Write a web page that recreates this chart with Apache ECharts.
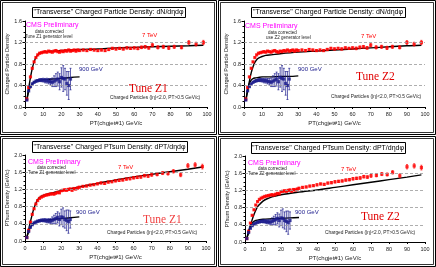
<!DOCTYPE html>
<html><head><meta charset="utf-8">
<script src="https://cdn.jsdelivr.net/npm/echarts@6/dist/echarts.min.js"></script>
<style>html,body{margin:0;padding:0;background:#fff;}#c{width:436px;height:267px;}</style>
</head><body><div id="c"></div>
<script>
// ---------- data ----------
const x7 = [1,2,3,4,5,6,7,8,9,10,11,12,13,14,15,16,17,18,19,20,21,22,23,24,25,26,27,28,29,30,32,34,36,38,40,42,44,46,48,50,52,54,56,58,60,62,64,66,68,70,73,76,79,82,86,90,94,98];
const dN7 = [0.15,0.36,0.56,0.72,0.84,0.92,0.97,1.00,1.01,1.02,1.03,1.02,1.04,1.03,1.02,1.04,1.05,1.03,1.02,1.04,1.03,1.05,1.04,1.06,1.04,1.05,1.06,1.04,1.06,1.05,1.06,1.05,1.07,1.06,1.05,1.06,1.05,1.07,1.09,1.08,1.09,1.08,1.10,1.09,1.10,1.09,1.11,1.12,1.10,1.15,1.11,1.12,1.10,1.12,1.11,1.20,1.17,1.20];
const dN7err = [0.01,0.01,0.01,0.01,0.01,0.01,0.01,0.01,0.01,0.01,0.012,0.012,0.012,0.012,0.012,0.012,0.012,0.012,0.012,0.012,0.015,0.015,0.015,0.015,0.015,0.015,0.015,0.015,0.015,0.015,0.018,0.018,0.018,0.018,0.018,0.018,0.018,0.02,0.02,0.02,0.02,0.02,0.02,0.02,0.02,0.025,0.025,0.025,0.025,0.03,0.03,0.03,0.03,0.03,0.03,0.035,0.035,0.04];
const x9 = [1,2,3,4,5,6,7,8,9,10,11,12,13,14,15,16,17,18,19,20,21,22,23,24,25];
const dN9 = [0.13,0.30,0.38,0.43,0.46,0.48,0.49,0.50,0.50,0.50,0.49,0.49,0.48,0.47,0.46,0.48,0.50,0.52,0.47,0.55,0.53,0.52,0.44,0.40,0.52];
const dN9err = [0.01,0.01,0.01,0.015,0.015,0.02,0.02,0.025,0.03,0.035,0.04,0.045,0.05,0.06,0.08,0.1,0.12,0.13,0.15,0.18,0.24,0.2,0.22,0.26,0.2];
const pt7 = [0.08,0.25,0.44,0.62,0.75,0.86,0.94,0.99,1.02,1.04,1.06,1.07,1.08,1.09,1.10,1.09,1.11,1.13,1.12,1.17,1.18,1.19,1.18,1.20,1.21,1.18,1.22,1.21,1.23,1.25,1.27,1.28,1.30,1.31,1.33,1.35,1.34,1.37,1.38,1.40,1.41,1.42,1.44,1.45,1.47,1.48,1.49,1.52,1.51,1.54,1.55,1.58,1.57,1.62,1.54,1.75,1.77,1.73];
const pt7err = [0.01,0.01,0.01,0.01,0.01,0.01,0.01,0.01,0.01,0.012,0.012,0.012,0.012,0.012,0.015,0.015,0.015,0.015,0.015,0.015,0.015,0.018,0.018,0.018,0.018,0.018,0.018,0.02,0.02,0.02,0.02,0.02,0.02,0.02,0.022,0.022,0.022,0.022,0.025,0.025,0.025,0.025,0.025,0.028,0.028,0.028,0.03,0.03,0.03,0.035,0.035,0.035,0.035,0.04,0.045,0.05,0.05,0.055];
const pt9 = [0.08,0.22,0.32,0.38,0.42,0.44,0.46,0.47,0.48,0.48,0.48,0.47,0.47,0.46,0.48,0.50,0.52,0.55,0.50,0.56,0.55,0.50,0.48,0.45,0.50];
const pt9err = [0.01,0.01,0.01,0.015,0.015,0.02,0.02,0.025,0.03,0.035,0.04,0.045,0.05,0.06,0.08,0.1,0.12,0.13,0.15,0.18,0.22,0.2,0.24,0.27,0.2];
// tune curves
const xTune7 = [1,2,3,4,5,6,7,8,10,12,15,20,30,40,50,60,70,80,90,98];
const dN7Z1 = [0.13,0.34,0.55,0.72,0.84,0.92,0.97,1.00,1.02,1.03,1.04,1.05,1.07,1.08,1.10,1.11,1.12,1.13,1.14,1.15];
const dN7Z2 = [0.12,0.30,0.48,0.64,0.75,0.83,0.88,0.91,0.94,0.96,0.97,0.99,1.02,1.04,1.06,1.08,1.10,1.12,1.14,1.15];
const pt7Z1 = [0.08,0.26,0.45,0.62,0.77,0.88,0.96,1.01,1.06,1.09,1.12,1.17,1.26,1.34,1.42,1.49,1.55,1.61,1.67,1.72];
const pt7Z2 = [0.08,0.22,0.38,0.52,0.64,0.74,0.82,0.87,0.95,1.00,1.05,1.10,1.16,1.21,1.27,1.33,1.39,1.45,1.51,1.56];
const xTune9 = [1,2,3,4,5,6,8,10,15,20,25,30];
const dN9Z1 = [0.12,0.29,0.38,0.43,0.46,0.48,0.50,0.51,0.52,0.53,0.55,0.56];
const dN9Z2 = [0.12,0.32,0.44,0.50,0.53,0.54,0.55,0.56,0.56,0.57,0.57,0.58];
const pt9Z1 = [0.08,0.22,0.32,0.38,0.42,0.44,0.47,0.48,0.50,0.52,0.54,0.56];
const pt9Z2 = [0.08,0.25,0.37,0.44,0.48,0.50,0.52,0.53,0.54,0.55,0.56,0.57];
const xTicks = [0,10,20,30,40,50,60,70,80,90,100];
const yTicksDN = [0.0,0.4,0.8,1.2,1.6];
const yTicksPT = [0.0,0.4,0.8,1.2,1.6,2.0];

// ---------- layout ----------
const RED = '#ff0000', BLUE = '#1a1a8c', FONT = 'Liberation Sans, Arial, sans-serif';
const panels = [
  {ox:0, oy:0, w:216, h:134, grid:{left:25, top:21, width:182, height:86}, yt:yTicksDN,
   title:'"Transverse" Charged Particle Density: dN/d\u03b7d\u03c6', yname:'Charged Particle Density',
   r:dN7, re:dN7err, b:dN9, be:dN9err, l7:dN7Z1, l9:dN9Z1, tune:'Tune Z1', gen:'Tune Z1 generator level', tc:'#e00000',
   tb:[32,7,153,10], cms:[26,25], dc:[35,32], gl:[25,37], t7:[142,35], t9:[79,69], tn:[129,89], cp:[110,98]},
  {ox:218, oy:0, w:217, h:134, grid:{left:244, top:21, width:181, height:86}, yt:yTicksDN,
   title:'"Transverse" Charged Particle Density: dN/d\u03b7d\u03c6', yname:'Charged Particle Density',
   r:dN7, re:dN7err, b:dN9, be:dN9err, l7:dN7Z2, l9:dN9Z2, tune:'Tune Z2', gen:'use Z2 generator level', tc:'#e00000',
   tb:[33,7,154,10], cms:[27,26], dc:[50,33], gl:[48,38], t7:[143,36], t9:[80,69], tn:[138,77], cp:[113,97]},
  {ox:0, oy:136, w:216, h:130, grid:{left:25, top:155, width:181, height:86}, yt:yTicksPT,
   title:'"Transverse" Charged PTsum Density: dPT/d\u03b7d\u03c6', yname:'PTsum Density (GeV/c)',
   r:pt7, re:pt7err, b:pt9, be:pt9err, l7:pt7Z1, l9:pt9Z1, tune:'Tune Z1', gen:'Tune Z1 generator level', tc:'#f04040',
   tb:[32,5,155,11], cms:[28,26], dc:[37,32], gl:[28,37], t7:[118,31], t9:[76,76], tn:[143,84], cp:[107,97]},
  {ox:218, oy:136, w:217, h:130, grid:{left:245, top:156, width:180, height:86}, yt:yTicksPT,
   title:'"Transverse" Charged PTsum Density: dPT/d\u03b7d\u03c6', yname:'PTsum Density (GeV/c)',
   r:pt7, re:pt7err, b:pt9, be:pt9err, l7:pt7Z2, l9:pt9Z2, tune:'Tune Z2', gen:'Tune Z2 generator level', tc:'#e00000',
   tb:[33,6,154,11], cms:[30,27], dc:[40,33], gl:[30,38], t7:[123,33], t9:[77,76], tn:[143,81], cp:[107,97]}
];

function zip(xs, ys){ return xs.map((x,i)=>[x, ys[i]]); }
function errData(xs, ys, es){ return xs.map((x,i)=>[x, +(ys[i]-es[i]).toFixed(3), +(ys[i]+es[i]).toFixed(3)]); }
function errSeries(idx, data, color){
  return {type:'custom', xAxisIndex:idx, yAxisIndex:idx, silent:true, z:3,
    encode:{x:0, y:[1,2]}, data:data,
    renderItem:function(params, api){
      const x = api.value(0);
      const lo = api.coord([x, api.value(1)]), hi = api.coord([x, api.value(2)]);
      const w = 1.0, st = {stroke:color, lineWidth:0.7};
      return {type:'group', children:[
        {type:'line', shape:{x1:lo[0],y1:lo[1],x2:hi[0],y2:hi[1]}, style:st},
        {type:'line', shape:{x1:lo[0]-w,y1:lo[1],x2:lo[0]+w,y2:lo[1]}, style:st},
        {type:'line', shape:{x1:hi[0]-w,y1:hi[1],x2:hi[0]+w,y2:hi[1]}, style:st}
      ]};
    }};
}

const grids=[], xAxes=[], yAxes=[], series=[], graphics=[];
panels.forEach((p, i) => {
  grids.push(p.grid);
  xAxes.push({type:'value', gridIndex:i, min:0, max:100, interval:10,
    name:'PT(chgjet#1) GeV/c', nameLocation:'middle', nameGap:13,
    nameTextStyle:{fontSize:6, fontFamily:FONT, color:'#222'},
    axisLine:{lineStyle:{color:'#000', width:1}}, axisTick:{length:2, lineStyle:{color:'#000'}},
    axisLabel:{fontSize:5.5, fontFamily:FONT, color:'#222', margin:4}, splitLine:{show:false}});
  const ymax = p.yt[p.yt.length-1];
  yAxes.push({type:'value', gridIndex:i, min:0, max:ymax, interval:0.4,
    name:p.yname, nameLocation:'middle', nameGap:15,
    nameTextStyle:{fontSize:5.5, fontFamily:FONT, color:'#222'},
    axisLine:{show:true, lineStyle:{color:'#000', width:1}}, axisTick:{show:true, length:2.5, lineStyle:{color:'#000'}},
    minorTick:{show:true, splitNumber:4, length:1.5, lineStyle:{color:'#000'}},
    axisLabel:{fontSize:5.5, fontFamily:FONT, color:'#222', margin:3, formatter:v=>v.toFixed(1)},
    splitLine:{show:false}});
  const gridVals = p.yt.slice(1, p.yt.length-1).map(v=>({yAxis:v}));
  series.push({type:'line', xAxisIndex:i, yAxisIndex:i, data:zip(xTune7, p.l7), showSymbol:false, smooth:0.3,
    lineStyle:{color:'#000', width:1.4}, z:2, silent:true,
    markLine:{silent:true, symbol:'none', label:{show:false}, lineStyle:{color:'#999', type:[3,2], width:0.8}, data:gridVals}});
  series.push({type:'line', xAxisIndex:i, yAxisIndex:i, data:zip(xTune9, p.l9), showSymbol:false, smooth:0.3,
    lineStyle:{color:'#000', width:1.4}, z:2, silent:true});
  series.push(errSeries(i, errData(x7, p.r, p.re), RED));
  series.push(errSeries(i, errData(x9, p.b, p.be), BLUE));
  series.push({type:'scatter', xAxisIndex:i, yAxisIndex:i, data:zip(x7, p.r), symbol:'rect', symbolSize:3.2,
    itemStyle:{color:RED}, z:4, silent:true});
  series.push({type:'scatter', xAxisIndex:i, yAxisIndex:i, data:zip(x9, p.b), symbol:'rect', symbolSize:3.2,
    itemStyle:{color:BLUE}, z:4, silent:true});

  const ox=p.ox, oy=p.oy;
  graphics.push({type:'rect', shape:{x:ox+0.5, y:oy+0.5, width:p.w, height:p.h}, style:{fill:null, stroke:'#000', lineWidth:1}, z:10});
  graphics.push({type:'rect', shape:{x:ox+2.5, y:oy+2.5, width:p.w-4, height:p.h-4}, style:{fill:null, stroke:'#000', lineWidth:0.8}, z:10});
  graphics.push({type:'rect', shape:{x:ox+p.tb[0]+0.5, y:oy+p.tb[1]+0.5, width:p.tb[2], height:p.tb[3]}, style:{fill:'#fff', stroke:'#000', lineWidth:1}, z:10});
  graphics.push({type:'text', x:ox+p.tb[0]+p.tb[2]/2, y:oy+p.tb[1]+p.tb[3]/2+0.5, z:11,
    style:{text:p.title, fontSize:7, fontFamily:FONT, fill:'#000', align:'center', verticalAlign:'middle'}});
  const t = (pos, txt, size, color, extra) => graphics.push({type:'text', x:ox+pos[0], y:oy+pos[1], z:11,
    style:Object.assign({text:txt, fontSize:size, fontFamily:FONT, fill:color, align:'left', verticalAlign:'middle'}, extra||{})});
  t(p.cms, 'CMS Preliminary', 7, '#ff00ff');
  t(p.dc, 'data corrected', 4.5, '#222');
  t(p.gl, p.gen, 4.5, '#222');
  t(p.t7, '7 TeV', 6, RED);
  t(p.t9, '900 GeV', 6, BLUE);
  t(p.tn, p.tune, 11.5, p.tc, {fontFamily:'Liberation Serif, Times New Roman, serif'});
  t(p.cp, 'Charged Particles (|\u03b7|<2.0, PT>0.5 GeV/c)', 4.8, '#222');
});

const chart = echarts.init(document.getElementById('c'), null, {renderer:'canvas'});
chart.setOption({animation:false, backgroundColor:'#fff', grid:grids, xAxis:xAxes, yAxis:yAxes, series:series, graphic:graphics});
</script></body></html>
